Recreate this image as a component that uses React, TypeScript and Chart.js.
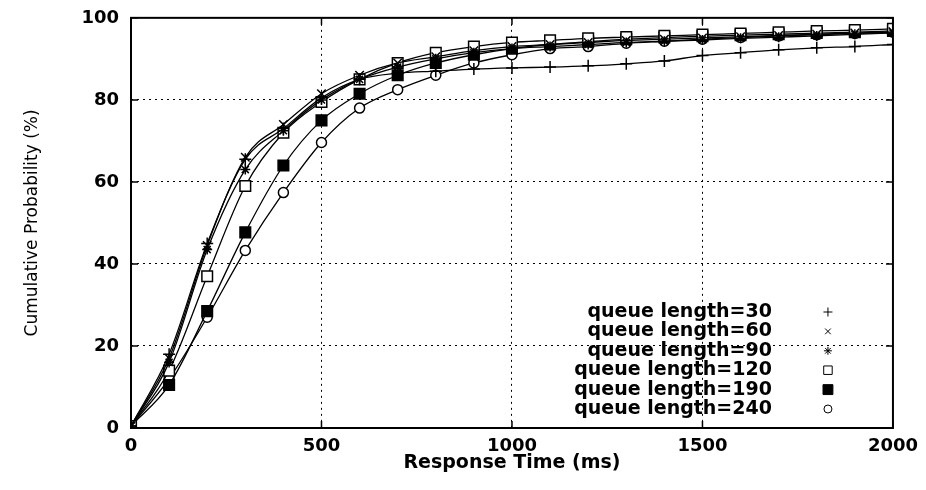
import React, { useEffect, useRef } from "react";
import { Chart, registerables } from "chart.js";
import { drawPoint } from "chart.js/helpers";

Chart.register(...registerables);

const responseTimes = [0, 100, 200, 300, 400, 500, 600, 700, 800, 900, 1000, 1100, 1200, 1300, 1400, 1500, 1600, 1700, 1800, 1900, 2000];

const q30 = [0.5, 18, 45, 65.5, 73, 80.5, 85, 86.5, 87, 87.5, 87.8, 88, 88.3, 88.8, 89.5, 90.8, 91.5, 92.2, 92.7, 93, 93.5];
const q60 = [0.5, 17, 44.5, 66, 74, 81.5, 86, 89, 90.5, 92, 93, 93.5, 94, 94.5, 94.8, 95.1, 95.4, 95.7, 96, 96.3, 96.6];
const q90 = [0.5, 16, 43.5, 63, 72.5, 80, 85, 88, 90, 91.5, 92.5, 93, 93.5, 94, 94.3, 94.6, 95, 95.3, 95.6, 96, 96.3];
const q120 = [0.5, 14, 37, 59, 72, 79.5, 85, 89, 91.5, 93, 94, 94.5, 95, 95.3, 95.6, 95.9, 96.2, 96.5, 96.8, 97, 97.3];
const q190 = [0.5, 10.5, 28.5, 47.7, 64, 75, 81.5, 86, 89, 91, 92.5, 93.5, 94.2, 94.8, 95.2, 95.5, 95.8, 96, 96.3, 96.5, 96.8];
const q240 = [0.5, 12, 27, 43.3, 57.4, 69.6, 78, 82.5, 86, 89, 91, 92.5, 93, 93.8, 94.3, 94.8, 95.2, 95.6, 95.9, 96.2, 96.5];

const seriesLabels = [
  "queue length=30",
  "queue length=60",
  "queue length=90",
  "queue length=120",
  "queue length=190",
  "queue length=240",
];
const seriesValues = [q30, q60, q90, q120, q190, q240];
const seriesStyles = ["cross", "crossRot", "star", "rect", "rect", "circle"];
const seriesFills = ["#000", "#000", "#000", "#fff", "#000", "#fff"];
const seriesRadius = [6, 6, 5, 7.5, 7.5, 5];
const legendRadius = [4.5, 4, 4, 6, 7, 4];

const xTitle = "Response Time (ms)";
const yTitle = "Cumulative Probability (%)";

const framePlugin = {
  id: "frame",
  afterDatasetsDraw(chart: any) {
    const { ctx, chartArea } = chart;
    const { left, right, top, bottom } = chartArea;
    ctx.save();
    ctx.strokeStyle = "#000";
    ctx.lineWidth = 2;
    ctx.strokeRect(left, top, right - left, bottom - top);
    ctx.lineWidth = 1.5;
    const xs = chart.scales.x;
    const ys = chart.scales.y;
    xs.ticks.forEach((t: any) => {
      const px = xs.getPixelForValue(t.value);
      ctx.beginPath();
      ctx.moveTo(px, bottom);
      ctx.lineTo(px, bottom - 7);
      ctx.moveTo(px, top);
      ctx.lineTo(px, top + 7);
      ctx.stroke();
    });
    ys.ticks.forEach((t: any) => {
      const py = ys.getPixelForValue(t.value);
      ctx.beginPath();
      ctx.moveTo(left, py);
      ctx.lineTo(left + 7, py);
      ctx.moveTo(right, py);
      ctx.lineTo(right - 7, py);
      ctx.stroke();
    });
    ctx.restore();
  },
};

const legendPlugin = {
  id: "customLegend",
  afterDatasetsDraw(chart: any) {
    const { ctx, chartArea } = chart;
    const n = chart.data.datasets.length;
    ctx.save();
    ctx.font = 'bold 19px "DejaVu Sans"';
    ctx.textAlign = "right";
    ctx.textBaseline = "middle";
    chart.data.datasets.forEach((ds: any, i: number) => {
      const y = chartArea.bottom - 19 - (n - 1 - i) * 19.4;
      ctx.fillStyle = "#000";
      ctx.fillText(ds.label, chartArea.right - 121, y);
      ctx.fillStyle = seriesFills[i];
      ctx.strokeStyle = "#000";
      drawPoint(
        ctx,
        { pointStyle: seriesStyles[i], radius: legendRadius[i], borderWidth: 1.5, rotation: 0 } as any,
        chartArea.right - 65,
        y
      );
    });
    ctx.restore();
  },
};

export default function App() {
  const canvasRef = useRef<HTMLCanvasElement | null>(null);

  useEffect(() => {
    if (!canvasRef.current) return;
    Chart.defaults.font.family = '"DejaVu Sans", sans-serif';
    Chart.defaults.color = "#000";
    const datasets = seriesLabels.map((label, i) => ({
      label,
      data: responseTimes.map((x, j) => ({ x, y: seriesValues[i][j] })),
      borderColor: "#000",
      borderWidth: 1.3,
      pointStyle: seriesStyles[i],
      pointRadius: seriesRadius[i],
      pointBorderWidth: 1.5,
      pointBorderColor: "#000",
      pointBackgroundColor: seriesFills[i],
      cubicInterpolationMode: "monotone",
      fill: false,
    }));
    const chart = new Chart(canvasRef.current, {
      type: "line",
      data: { datasets } as any,
      plugins: [framePlugin, legendPlugin],
      options: {
        animation: false,
        responsive: false,
        layout: { padding: { left: 0, right: 33, top: 5, bottom: 0 } },
        plugins: { legend: { display: false }, tooltip: { enabled: false } },
        scales: {
          x: {
            type: "linear",
            min: 0,
            max: 2000,
            afterFit: (s: any) => {
              s.height = 62;
            },
            ticks: {
              stepSize: 500,
              padding: 8,
              font: { size: 18, weight: "bold" },
              color: "#000",
              maxRotation: 0,
              callback: (v: any) => String(v),
            },
            grid: { color: "#000", lineWidth: 1, drawTicks: false, tickLength: 0 },
            border: { display: false, dash: [2, 4] },
            title: {
              display: true,
              text: xTitle,
              font: { size: 19, weight: "bold" },
              color: "#000",
              padding: { top: 0, bottom: 16 },
            },
          },
          y: {
            min: 0,
            max: 100,
            afterFit: (s: any) => {
              s.width = 131;
            },
            ticks: {
              stepSize: 20,
              padding: 12,
              font: { size: 18, weight: "bold", lineHeight: 0.65 },
              color: "#000",
              callback: (v: any) => String(v),
            },
            grid: { color: "#000", lineWidth: 1, drawTicks: false, tickLength: 0 },
            border: { display: false, dash: [2, 4] },
            title: {
              display: true,
              text: yTitle,
              font: { size: 17 },
              color: "#000",
              padding: { top: 22, bottom: 0 },
            },
          },
        },
      } as any,
    });
    return () => chart.destroy();
  }, []);

  return (
    <div style={{ position: "fixed", left: 0, top: 0, width: 926, height: 490, background: "#fff" }}>
      <canvas ref={canvasRef} width={926} height={490} />
    </div>
  );
}
